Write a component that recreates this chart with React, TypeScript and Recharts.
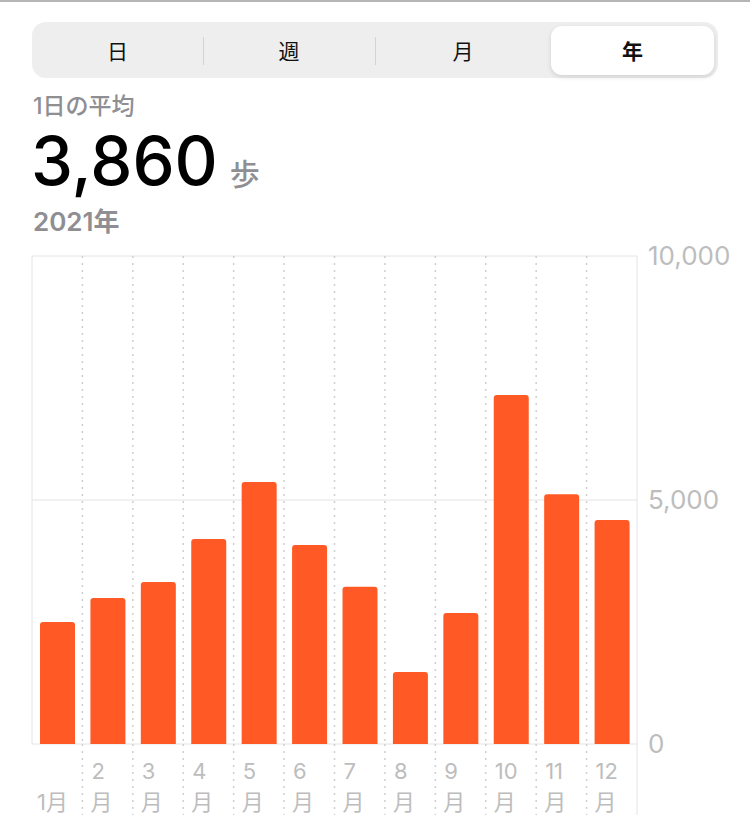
import React from 'react'
import { BarChart, Bar, XAxis, YAxis, CartesianGrid } from 'recharts'

const months = ['1', '2', '3', '4', '5', '6', '7', '8', '9', '10', '11', '12']
const steps = [2500, 2990, 3320, 4200, 5370, 4080, 3220, 1475, 2685, 7150, 5120, 4590]
const yTicks = [0, 5000, 10000]
const tabs = ['日', '週', '月', '年']

const FONT = "Inter, 'Noto Sans CJK JP', sans-serif"
const JP = "'Noto Sans CJK JP', Inter, sans-serif"
const PLOT_W = 605
const BAND = PLOT_W / months.length
const GRID = '#e4e4e4'
const DOTS = '#cfcfcf'
const LABEL = '#bdbdbd'
const SUB = '#8e8e93'

const data = months.map((m, i) => ({ month: m, steps: steps[i] }))

function MonthTick(props: any) {
  const { x, y, payload, index } = props
  const base = y - 8
  const left = x - BAND / 2
  const right = x + BAND / 2
  return (
    <g>
      {index > 0 && (
        <line x1={left} x2={left} y1={base} y2={base + 71} stroke={DOTS} strokeWidth={1.5} strokeDasharray="2 5" />
      )}
      {index === months.length - 1 && (
        <line x1={right} x2={right} y1={base} y2={base + 71} stroke={GRID} strokeWidth={1} />
      )}
      {index === 0 ? (
        <text x={left + 5} y={base + 66} fill={LABEL} fontSize={22} fontFamily={FONT}>
          {payload.value}月
        </text>
      ) : (
        <g fill={LABEL} fontSize={22} fontFamily={FONT}>
          <text x={left + 9} y={base + 35}>{payload.value}</text>
          <text x={left + 8} y={base + 66}>月</text>
        </g>
      )}
    </g>
  )
}

function StepsChart() {
  return (
    <BarChart width={750} height={600} data={data} margin={{ top: 16, right: 13, bottom: 16, left: 32 }}>
      <CartesianGrid
        stroke={GRID}
        horizontal
        verticalCoordinatesGenerator={({ offset }: any) => [offset.left, offset.left + offset.width]}
      />
      <CartesianGrid
        stroke={DOTS}
        strokeWidth={1.5}
        strokeDasharray="2 5"
        horizontal={false}
        verticalCoordinatesGenerator={({ offset }: any) =>
          months.slice(1).map((_, i) => offset.left + ((i + 1) * offset.width) / months.length)
        }
      />
      <XAxis dataKey="month" height={80} axisLine={false} tickLine={false} tick={<MonthTick />} interval={0} />
      <YAxis
        orientation="right"
        width={100}
        domain={[0, 10000]}
        ticks={yTicks}
        axisLine={false}
        tickLine={false}
        tickMargin={5}
        tick={{ fill: LABEL, fontSize: 26, fontFamily: FONT }}
        tickFormatter={(v: number) => v.toLocaleString('en-US')}
      />
      <Bar dataKey="steps" fill="#ff5a26" barSize={35} radius={[3, 3, 0, 0]} isAnimationActive={false} />
    </BarChart>
  )
}

export default function App() {
  return (
    <div style={{ position: 'absolute', left: 0, top: 0, width: 750, height: 840, background: '#fff', overflow: 'hidden', fontFamily: FONT }}>
      <div style={{ position: 'absolute', left: 0, top: 0, width: 750, height: 2, background: '#b5b5b5' }} />
      <div style={{ position: 'absolute', left: 32, top: 22, width: 686, height: 56, borderRadius: 14, background: '#eeeeef' }}>
        <div style={{ position: 'absolute', left: 519, top: 4, width: 163, height: 49, borderRadius: 11, background: '#fff', boxShadow: '0 2px 5px rgba(0,0,0,0.12)' }} />
        {[171, 343].map((l) => (
          <div key={l} style={{ position: 'absolute', left: l, top: 15, width: 1, height: 28, background: '#d3d3d3' }} />
        ))}
        {tabs.map((t, i) => (
          <div
            key={t}
            style={{
              position: 'absolute',
              left: [0, 171, 343, 519][i],
              width: [171, 172, 176, 163][i],
              top: 0,
              height: 56,
              lineHeight: '56px',
              textAlign: 'center',
              fontFamily: JP,
              fontSize: 21,
              fontWeight: i === 3 ? 700 : 400,
              color: '#111',
            }}
          >
            {t}
          </div>
        ))}
      </div>
      <div style={{ position: 'absolute', left: 33, top: 93, lineHeight: '26px', fontFamily: FONT, fontSize: 23, fontWeight: 500, color: SUB }}>
        1日の平均
      </div>
      <div style={{ position: 'absolute', left: 31, top: 128, height: 66, lineHeight: '66px', display: 'flex', alignItems: 'baseline' }}>
        <span style={{ fontFamily: FONT, fontSize: 67, fontWeight: 500, color: '#000' }}>3,860</span>
        <span style={{ fontFamily: JP, fontSize: 30, fontWeight: 500, color: SUB, marginLeft: 12 }}>歩</span>
      </div>
      <div style={{ position: 'absolute', left: 33, top: 207, lineHeight: '30px', fontFamily: FONT, fontSize: 26, fontWeight: 600, color: SUB }}>
        2021年
      </div>
      <div style={{ position: 'absolute', left: 0, top: 240 }}>
        <StepsChart />
      </div>
    </div>
  )
}
